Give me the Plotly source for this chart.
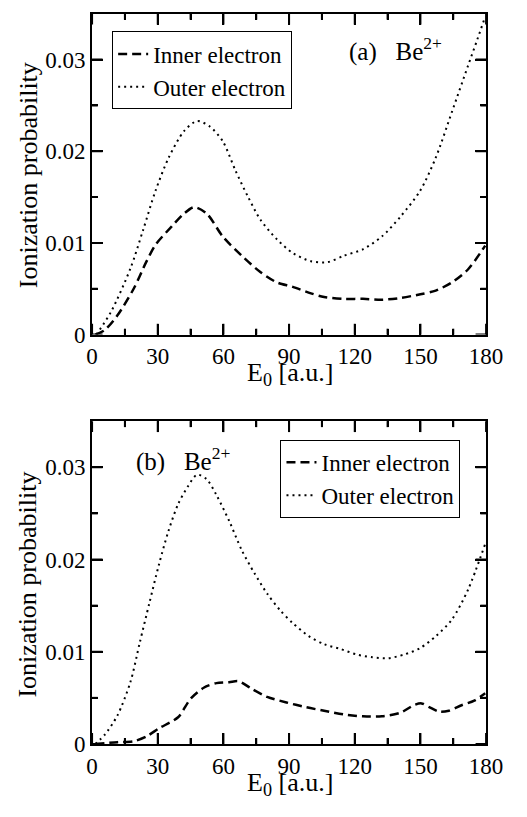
import plotly.graph_objects as go

# Panel (a)
a_outer_E = [2, 8.7, 17.5, 23.3, 29, 35, 42, 48, 53.8, 59.7, 65.5, 71.3, 77, 84.4, 91.7, 100, 107.6, 115, 123.7, 132.4, 141, 149.9, 157, 164.4, 171.7, 176, 179.6]
a_outer_P = [0, 0.0025, 0.0072, 0.0114, 0.0157, 0.0193, 0.0222, 0.0233, 0.0227, 0.0211, 0.0179, 0.0150, 0.0125, 0.0104, 0.0089, 0.0080, 0.0079, 0.0086, 0.0093, 0.0107, 0.0129, 0.0157, 0.0193, 0.0243, 0.0293, 0.0322, 0.0347]
a_inner_E = [1.5, 5.8, 11.6, 19, 24.7, 29, 36.4, 42, 46.6, 52.4, 59.7, 68.4, 77, 84.4, 91.7, 100, 106, 115, 123.7, 132.4, 141, 150, 157, 164.4, 171.7, 179.6]
a_inner_P = [0, 0.0005, 0.0021, 0.0050, 0.0079, 0.0098, 0.0118, 0.0132, 0.0139, 0.0132, 0.0107, 0.0086, 0.0068, 0.0057, 0.0052, 0.0045, 0.0041, 0.0039, 0.0039, 0.0038, 0.0040, 0.0044, 0.0048, 0.0057, 0.0071, 0.0097]

# Panel (b)
b_outer_E = [1.5, 5.8, 11.6, 17.5, 21.8, 26.2, 30.6, 34.9, 39.3, 43.7, 48, 52.4, 56.8, 62.6, 68.4, 74.2, 80, 85.9, 91.7, 99, 106.2, 113.5, 120.8, 128, 135.3, 142.6, 149.9, 157.1, 164.4, 171.7, 179.6]
b_outer_P = [0, 0.0010, 0.0031, 0.0067, 0.0110, 0.0153, 0.0195, 0.0231, 0.0260, 0.0279, 0.0292, 0.0287, 0.0270, 0.0242, 0.0210, 0.0185, 0.0163, 0.0145, 0.0131, 0.0117, 0.0108, 0.0103, 0.0097, 0.0094, 0.0093, 0.0097, 0.0104, 0.0117, 0.0135, 0.0167, 0.0217]
b_inner_E = [1.5, 11.6, 19, 24.7, 30.6, 39.3, 45, 51, 56.8, 62.6, 67, 72.8, 80, 88.8, 97.5, 106, 115, 123.7, 132.4, 141, 146.9, 150.5, 154, 158.6, 163, 168.8, 174.6, 179.6]
b_inner_P = [0, 0.0002, 0.0003, 0.0008, 0.0017, 0.0029, 0.0049, 0.0061, 0.0066, 0.0067, 0.0068, 0.0060, 0.0051, 0.0045, 0.0040, 0.0036, 0.0032, 0.0030, 0.0030, 0.0034, 0.0042, 0.0044, 0.0040, 0.0035, 0.0036, 0.0042, 0.0047, 0.0055]

x_ticks = [0, 30, 60, 90, 120, 150, 180]
x_minor_ticks = [15, 45, 75, 105, 135, 165]
y_ticks = [0, 0.01, 0.02, 0.03]
y_minor_ticks = [0.005, 0.015, 0.025]
y_tick_labels = ["0", "0.01", "0.02", "0.03"]

W, H = 527, 817
FONT = "Liberation Serif"
DASH_INNER = "9px,5px"
DOT_OUTER = "2px,4px"

fig = go.Figure()
fig.add_trace(go.Scatter(x=a_inner_E, y=a_inner_P, mode="lines", name="Inner electron",
                         line=dict(color="black", width=2.5, dash=DASH_INNER, shape="spline", smoothing=0.8),
                         xaxis="x", yaxis="y", legend="legend"))
fig.add_trace(go.Scatter(x=a_outer_E, y=a_outer_P, mode="lines", name="Outer electron",
                         line=dict(color="black", width=2, dash=DOT_OUTER, shape="spline", smoothing=0.8),
                         xaxis="x", yaxis="y", legend="legend"))
fig.add_trace(go.Scatter(x=b_inner_E, y=b_inner_P, mode="lines", name="Inner electron",
                         line=dict(color="black", width=2.5, dash=DASH_INNER, shape="spline", smoothing=0.8),
                         xaxis="x2", yaxis="y2", legend="legend2"))
fig.add_trace(go.Scatter(x=b_outer_E, y=b_outer_P, mode="lines", name="Outer electron",
                         line=dict(color="black", width=2, dash=DOT_OUTER, shape="spline", smoothing=0.8),
                         xaxis="x2", yaxis="y2", legend="legend2"))

PX0, PX1 = 90, 502
xdom = [PX0 / W, PX1 / W]
ydom_a = [1 - 340 / H, 1 - 14 / H]
ydom_b = [1 - 756 / H, 1 - 428 / H]
PW = PX1 - PX0
PH = 326

TICKFONT = dict(family=FONT, size=23, color="black")


def xax(anchor, dom):
    return dict(domain=dom, anchor=anchor, range=[0, 180], tickvals=x_ticks,
                ticks="inside", ticklen=11, tickwidth=2, tickcolor="black",
                minor=dict(ticks="inside", ticklen=6, tickwidth=2, tickcolor="black", dtick=15, tick0=0),
                showline=True, linecolor="black", linewidth=2, mirror="ticks",
                showgrid=False, zeroline=False, tickfont=TICKFONT)


def yax(anchor, dom):
    return dict(domain=dom, anchor=anchor, range=[0, 0.035], tickvals=y_ticks, ticktext=y_tick_labels,
                ticks="inside", ticklen=11, tickwidth=2, tickcolor="black",
                minor=dict(ticks="inside", ticklen=6, tickwidth=2, tickcolor="black", dtick=0.005, tick0=0),
                showline=True, linecolor="black", linewidth=2, mirror="ticks",
                showgrid=False, zeroline=False, tickfont=TICKFONT)


# tick marks on all four sides, placed through the axes' own scales
shapes = []
tick_line = dict(color="black", width=2)
for xr, yr in [("x", "y"), ("x2", "y2")]:
    for vals, L in [(x_ticks, 11), (x_minor_ticks, 6)]:
        for v in vals:
            shapes.append(dict(type="line", xref=xr, yref=f"{yr} domain", x0=v, x1=v, y0=0, y1=L / PH, line=tick_line))
            shapes.append(dict(type="line", xref=xr, yref=f"{yr} domain", x0=v, x1=v, y0=1, y1=1 - L / PH, line=tick_line))
    for vals, L in [(y_ticks, 11), (y_minor_ticks, 6)]:
        for v in vals:
            shapes.append(dict(type="line", xref=f"{xr} domain", yref=yr, x0=0, x1=L / PW, y0=v, y1=v, line=tick_line))
            shapes.append(dict(type="line", xref=f"{xr} domain", yref=yr, x0=1, x1=1 - L / PW, y0=v, y1=v, line=tick_line))

leg_common = dict(xanchor="left", yanchor="top", bgcolor="white", bordercolor="black", borderwidth=1,
                  font=dict(family=FONT, size=23, color="black"), tracegroupgap=0, itemwidth=30)

fig.update_layout(
    width=W, height=H, margin=dict(l=0, r=0, t=0, b=0),
    paper_bgcolor="white", plot_bgcolor="white",
    xaxis=xax("y", xdom), yaxis=yax("x", ydom_a),
    xaxis2=xax("y2", xdom), yaxis2=yax("x2", ydom_b),
    legend=dict(x=111 / W, y=1 - 32 / H, **leg_common),
    legend2=dict(x=287 / W, y=1 - 447 / H, **leg_common),
    shapes=shapes,
)

ann_font = dict(family=FONT, size=25, color="black")
title_font = dict(family=FONT, size=26, color="black")
annotations = [
    dict(text="(a)   Be<sup>2+</sup>", x=407 / W, y=1 - 50 / H, font=ann_font),
    dict(text="(b)   Be<sup>2+</sup>", x=185 / W, y=1 - 467 / H, font=ann_font),
    dict(text="E<sub>0</sub> [a.u.]", x=297 / W, y=1 - 380 / H, font=title_font),
    dict(text="E<sub>0</sub> [a.u.]", x=297 / W, y=1 - 797 / H, font=title_font),
    dict(text="Ionization probability", x=23 / W, y=1 - 178 / H, textangle=-90, font=title_font),
    dict(text="Ionization probability", x=23 / W, y=1 - 594 / H, textangle=-90, font=title_font),
]
for a in annotations:
    fig.add_annotation(xref="paper", yref="paper", showarrow=False, xanchor="center", yanchor="middle", **a)

fig.write_html("out.html")
